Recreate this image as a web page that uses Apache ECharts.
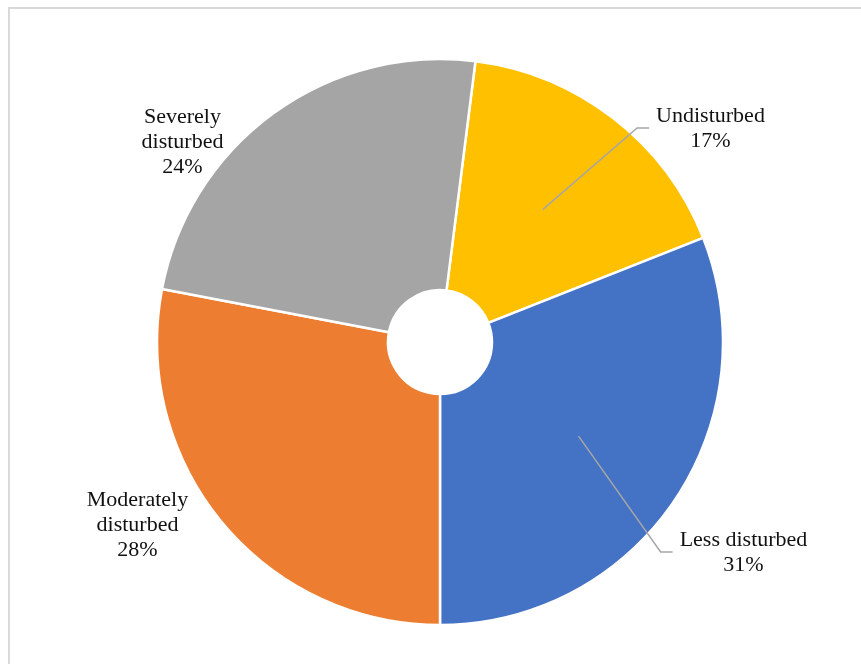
<!DOCTYPE html>
<html>
<head>
<meta charset="utf-8">
<style>
  html, body { margin: 0; padding: 0; background: #fff; overflow: hidden; }
  #chart { width: 861px; height: 664px; }
</style>
<script src="https://cdn.jsdelivr.net/npm/echarts@6/dist/echarts.min.js"></script>
</head>
<body>
<div id="chart"></div>
<script>
// Disturbance classes and their share of the surveyed area (%)
const categories = ['Undisturbed', 'Less disturbed', 'Moderately disturbed', 'Severely disturbed'];
const labelNames = ['Undisturbed', 'Less disturbed', 'Moderately\ndisturbed', 'Severely\ndisturbed'];
const shares = [17, 31, 28, 24];
const sliceColors = ['#FFC000', '#4472C4', '#ED7D31', '#A5A5A5'];
const hasLeader = [true, true, false, false];

// Ring geometry (pixels)
const CX = 440, CY = 342, R_IN = 52, R_OUT = 283;
const START_ANGLE = 82.8; // first slice begins just right of 12 o'clock

// Label anchors, as offsets from the ring centre
const labelOffsets = [[270.5, -213], [303.5, 211], [-302.5, 183], [-257.5, -200]];

const FONT_FAMILY = "'Liberation Serif', 'Times New Roman', serif";
const FONT_SIZE = 22;

const total = shares.reduce((a, b) => a + b, 0);

// mid-angle (radians, maths convention) of each slice
function midAngle(i) {
  let before = 0;
  for (let k = 0; k < i; k++) before += shares[k];
  const deg = START_ANGLE - (before + shares[i] / 2) / total * 360;
  return deg * Math.PI / 180;
}

// widest line of a label, for placing the end of its leader
const measureCtx = document.createElement('canvas').getContext('2d');
measureCtx.font = FONT_SIZE + 'px ' + FONT_FAMILY;
function labelWidth(i) {
  const lines = (labelNames[i] + '\n' + shares[i] + '%').split('\n');
  return Math.max.apply(null, lines.map(t => measureCtx.measureText(t).width));
}

// leader polyline: slice centroid -> elbow -> just left of the label
function leaderPoints(i) {
  const a = midAngle(i);
  const rMid = (R_IN + R_OUT) / 2;
  const sx = CX + rMid * Math.cos(a);
  const sy = CY - rMid * Math.sin(a);
  const lx = CX + labelOffsets[i][0];
  const ly = CY + labelOffsets[i][1] - 1;
  const endX = lx - labelWidth(i) / 2 - 7;
  return [[sx, sy], [endX - 12, ly], [endX, ly]];
}

const leaderIdx = hasLeader.map((v, i) => v ? i : -1).filter(i => i >= 0);

const chart = echarts.init(document.getElementById('chart'), null, { renderer: 'canvas' });

chart.setOption({
  animation: false,
  backgroundColor: '#ffffff',
  graphic: [{
    type: 'rect',
    shape: { x: 9, y: 8, width: 1000, height: 1000 },
    style: { fill: 'none', stroke: '#d9d9d9', lineWidth: 2 },
    silent: true
  }],
  series: [
    {
      type: 'pie',
      z: 2,
      center: [CX, CY],
      radius: [R_IN, R_OUT],
      startAngle: START_ANGLE,
      clockwise: true,
      avoidLabelOverlap: false,
      itemStyle: { borderColor: '#ffffff', borderWidth: 2.5 },
      label: {
        show: true,
        position: 'outside',
        align: 'center',
        fontFamily: FONT_FAMILY,
        fontSize: FONT_SIZE,
        lineHeight: 25,
        color: '#111',
        formatter: p => labelNames[p.dataIndex] + '\n' + p.value + '%'
      },
      labelLine: { show: false },
      labelLayout: function (params) {
        const i = params.dataIndex;
        return {
          x: CX + labelOffsets[i][0],
          y: CY + labelOffsets[i][1],
          align: 'center',
          verticalAlign: 'middle'
        };
      },
      data: categories.map((name, i) => ({
        name: name,
        value: shares[i],
        itemStyle: { color: sliceColors[i] }
      }))
    },
    {
      // leader lines drawn over the slices
      type: 'custom',
      coordinateSystem: 'none',
      z: 10,
      silent: true,
      data: leaderIdx,
      renderItem: function (params, api) {
        const i = api.value(0);
        return {
          type: 'polyline',
          z2: 100,
          shape: { points: leaderPoints(i) },
          style: { stroke: '#a6a6a6', lineWidth: 1.5, fill: null }
        };
      }
    }
  ]
});
</script>
</body>
</html>
